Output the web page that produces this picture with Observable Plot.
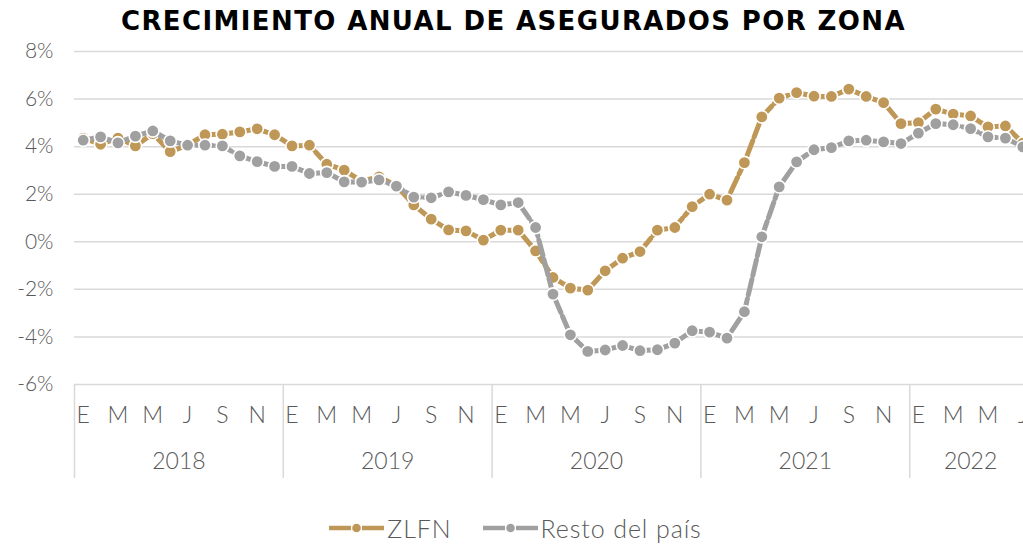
<!DOCTYPE html>
<html>
<head>
<meta charset="utf-8">
<script src="https://cdn.jsdelivr.net/npm/d3@7"></script>
<script src="https://cdn.jsdelivr.net/npm/@observablehq/plot@0.6"></script>
<style>
  html, body { margin: 0; padding: 0; background: #fff; width: 1023px; height: 544px; overflow: hidden; }
  #title { height: 40px; line-height: 42px; text-align: center; font-family: "DejaVu Sans", sans-serif; font-weight: bold; font-size: 26px; color: #000; white-space: nowrap; padding-left: 2px; }
  #chart { height: 460px; width: 1040px; }
  #chart svg { max-width: none !important; }
  #legend { height: 44px; display: flex; justify-content: center; align-items: center; padding-left: 4px; padding-top: 6px; font-family: Lato, sans-serif; font-weight: 300; font-size: 25px; letter-spacing: 0.9px; color: #595959; }
  .item { display: flex; align-items: center; }
  .item svg { margin-right: 3px; }
</style>
</head>
<body>
<div id="title">CRECIMIENTO ANUAL DE ASEGURADOS POR ZONA</div>
<div id="chart"></div>
<div id="legend"></div>
<script>
// ---- data ----
const years = ["2018", "2019", "2020", "2021", "2022"];
const monthLetters = ["E", "F", "M", "A", "M", "J", "J", "A", "S", "O", "N", "D"];
const seriesNames = ["ZLFN", "Resto del país"];
const seriesColors = ["#BF9858", "#A0A0A0"];
const yTicks = [-6, -4, -2, 0, 2, 4, 6, 8];

// Jan 2018 .. Jul 2022
const zlfn = [
  4.36, 4.10, 4.36, 4.03, 4.55, 3.79, 4.06, 4.50, 4.52, 4.62, 4.75, 4.50,
  4.03, 4.06, 3.26, 3.01, 2.55, 2.73, 2.36, 1.55, 0.95, 0.50, 0.46, 0.07,
  0.49, 0.49, -0.38, -1.50, -1.95, -2.03, -1.22, -0.69, -0.41, 0.49, 0.60, 1.48,
  2.00, 1.75, 3.33, 5.25, 6.04, 6.27, 6.12, 6.11, 6.42, 6.11, 5.85, 4.97,
  5.01, 5.58, 5.37, 5.29, 4.83, 4.87, 4.15
];
const resto = [
  4.27, 4.41, 4.16, 4.44, 4.66, 4.24, 4.06, 4.06, 4.03, 3.61, 3.37, 3.17,
  3.17, 2.87, 2.91, 2.52, 2.51, 2.60, 2.34, 1.88, 1.85, 2.10, 1.95, 1.77,
  1.55, 1.65, 0.60, -2.20, -3.91, -4.61, -4.55, -4.36, -4.58, -4.54, -4.26, -3.74,
  -3.80, -4.05, -2.94, 0.21, 2.31, 3.36, 3.87, 3.96, 4.24, 4.27, 4.20, 4.13,
  4.57, 4.97, 4.92, 4.76, 4.41, 4.36, 3.99
];

// ---- derived table ----
const n = zlfn.length;
const months = d3.range(n).map(i => ({idx: i, year: years[Math.floor(i / 12)], m: i % 12}));
const rows = [];
[zlfn, resto].forEach((vals, s) => vals.forEach((v, i) => rows.push({x: i + 0.5, value: v, series: seriesNames[s]})));
const byName = name => rows.filter(r => r.series === name);

const monthTicks = months.filter(d => d.m % 2 === 0).map(d => d.idx + 0.5);
const yearStarts = years.map((y, k) => k * 12).filter(v => v < n);
const yearCenters = yearStarts.map(s => (s + Math.min(s + 12, n)) / 2);
const yearOf = c => years[Math.floor(c / 12)];

const font = "Lato, sans-serif";
const textColor = "#595959";

const marks = [
  Plot.ruleY(yTicks, {stroke: "#d9d9d9", strokeWidth: 1.5}),
  Plot.ruleX(yearStarts, {y1: -6, y2: -6, insetBottom: -94, stroke: "#d9d9d9", strokeWidth: 1.5}),
  Plot.axisY({ticks: yTicks, tickFormat: d => d + "%", tickSize: 0, tickPadding: 21, fontSize: 21, label: null}),
  Plot.axisX({ticks: monthTicks, tickFormat: t => monthLetters[Math.floor(t) % 12], tickSize: 0, tickPadding: 22, fontSize: 23, label: null}),
  Plot.axisX({ticks: yearCenters, tickFormat: c => yearOf(c), tickSize: 0, tickPadding: 68, fontSize: 23, label: null})
];
seriesNames.forEach((name, s) => {
  marks.push(Plot.line(byName(name), {x: "x", y: "value", stroke: seriesColors[s], strokeWidth: 5, strokeDasharray: "16 4"}));
  marks.push(Plot.dot(byName(name), {x: "x", y: "value", r: 6.2, fill: seriesColors[s], stroke: "white", strokeWidth: 1.6}));
});

const chart = Plot.plot({
  width: 1040,
  height: 460,
  marginLeft: 74,
  marginRight: 9,
  marginTop: 11,
  marginBottom: 116,
  x: {type: "linear", domain: [0, n], label: null},
  y: {domain: [-6, 8], label: null},
  style: {fontFamily: font, color: textColor, background: "white", fontWeight: 300, overflow: "visible", maxWidth: "none"},
  marks
});
document.getElementById("chart").appendChild(chart);

// ---- legend ----
const legend = document.getElementById("legend");
legend.style.width = "1023px";
seriesNames.forEach((name, s) => {
  const item = document.createElement("div");
  item.className = "item";
  if (s > 0) item.style.marginLeft = "31px";
  const c = seriesColors[s];
  item.innerHTML = `<svg width="55" height="20"><line x1="0" y1="10" x2="22" y2="10" stroke="${c}" stroke-width="4.5"/><line x1="33" y1="10" x2="55" y2="10" stroke="${c}" stroke-width="4.5"/><circle cx="27.5" cy="10" r="4.3" fill="${c}"/></svg><span>${name}</span>`;
  legend.appendChild(item);
});

// fit the title to the reference width
const t = document.getElementById("title");
t.style.width = "1023px";
const span = document.createElement("span");
span.textContent = t.textContent;
t.textContent = "";
t.appendChild(span);
const w = span.getBoundingClientRect().width;
const target = 785;
span.style.letterSpacing = ((target - w) / span.textContent.length) + "px";
</script>
</body>
</html>
